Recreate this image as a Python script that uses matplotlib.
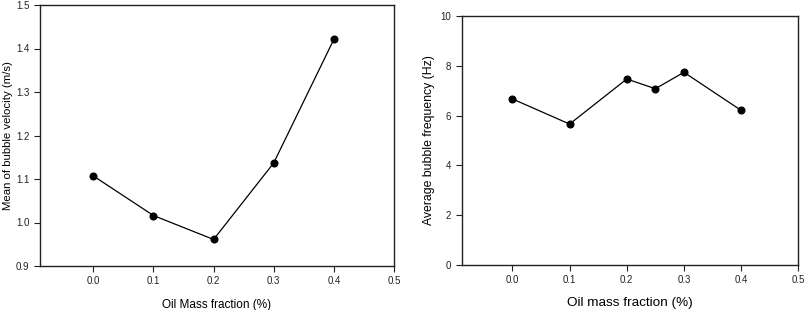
import matplotlib
matplotlib.use("Agg")
import matplotlib.pyplot as plt

plt.rcParams['font.family'] = ['Liberation Sans', 'DejaVu Sans']

oil_left = [0.0, 0.1, 0.2, 0.3, 0.4]
velocity = [1.107, 1.016, 0.961, 1.137, 1.421]

oil_right = [0.0, 0.1, 0.2, 0.25, 0.3, 0.4]
frequency = [6.67, 5.66, 7.47, 7.08, 7.74, 6.21]

xticks = [0.0, 0.1, 0.2, 0.3, 0.4, 0.5]
yticks_left = [0.9, 1.0, 1.1, 1.2, 1.3, 1.4, 1.5]
yticks_right = [0, 2, 4, 6, 8, 10]

W, H = 812, 310
fig = plt.figure(figsize=(W/100, H/100), dpi=100)

ax1 = fig.add_axes([40/W, 1-266/H, (394-40)/W, (266-5)/H])
ax2 = fig.add_axes([461.7/W, 1-265/H, (798.3-461.7)/W, (265-16)/H])

for ax in (ax1, ax2):
    for s in ax.spines.values():
        s.set_linewidth(1.0)
        s.set_color('#222222')
    ax.tick_params(direction='out', length=4, width=0.8, labelsize=7, colors='#222222')
    ax.set_xlim(-0.0887, 0.5)
    ax.set_xticks(xticks)
    ax.set_xticklabels([f"{t:.1f}" for t in xticks])

ax1.plot(oil_left, velocity, color='black', lw=0.9, marker='o', ms=4.8)
ax1.set_ylim(0.9, 1.5)
ax1.set_yticks(yticks_left)
ax1.set_yticklabels([f"{t:.1f}" for t in yticks_left])
ax1.set_xlabel("Oil Mass fraction (%)", fontsize=8.5, labelpad=9)
ax1.set_ylabel("Mean of bubble velocity (m/s)", fontsize=8.2, labelpad=2)

ax2.plot(oil_right, frequency, color='black', lw=0.9, marker='o', ms=4.8)
ax2.set_ylim(0, 10)
ax2.set_yticks(yticks_right)
ax2.set_xlabel("Oil mass fraction (%)", fontsize=9.7, labelpad=8)
ax2.set_ylabel("Average bubble frequency (Hz)", fontsize=8.8, labelpad=4)

fig.savefig("out.png", dpi=100)
